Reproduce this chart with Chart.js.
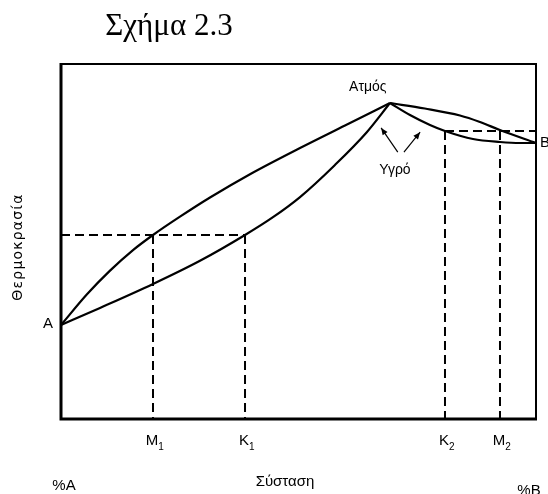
<!DOCTYPE html>
<html>
<head>
<meta charset="utf-8">
<script src="https://cdn.jsdelivr.net/npm/chart.js@4/dist/chart.umd.min.js"></script>
<style>
html,body{margin:0;padding:0;background:#fff;}
#wrap{width:548px;height:494px;position:relative;}
</style>
</head>
<body>
<div id="wrap"><canvas id="c" width="548" height="494"></canvas></div>
<script>
// Composition (%B) and temperature (arbitrary units 0-100)
const vaporLeftX  = [0, 5.47, 10.32, 15.16, 19.37, 25.05, 31.37, 39.79, 50.32, 59.79, 69.26];
const vaporLeftY  = [26.48, 35.13, 41.80, 47.58, 51.83, 56.99, 62.39, 68.96, 76.34, 82.68, 89.01];
const liquidLeftX = [0, 8.21, 19.37, 29.26, 38.74, 44.63, 50.32, 57.68, 64.42, 69.26];
const liquidLeftY = [26.48, 31.28, 38.03, 44.56, 51.83, 56.85, 62.52, 71.57, 80.87, 89.01];
const vaporRightX  = [69.26, 76.6, 84.0, 88.2, 92.4, 100];
const vaporRightY  = [89.01, 87.46, 85.49, 83.66, 81.41, 77.75];
const liquidRightX = [69.26, 73.47, 77.68, 80.84, 86.74, 92.42, 96.63, 100];
const liquidRightY = [89.01, 85.63, 82.82, 81.13, 78.87, 78.03, 77.75, 77.75];

// tie lines (dashed)
const tieTemps = [51.83, 81.13];        // left, right
const tieLeftComps  = [19.37, 38.74];   // M1, K1
const tieRightComps = [80.84, 92.42];   // K2, M2
const tickNames = ["M", "K", "K", "M"];
const tickSubs  = ["1", "1", "2", "2"];
const endLabels = ["A", "B"];
const regionLabels = ["Ατμός", "Υγρό"];
const axisTitleX = "Σύσταση";
const axisTitleY = "Θερμοκρασία";
const compEnds = ["%A", "%B"];
const chartTitle = "Σχήμα 2.3";

const pts = (xs, ys) => xs.map((x, i) => ({x: x, y: ys[i]}));

const solid = (xs, ys) => ({
  data: pts(xs, ys), showLine: true, borderColor: '#000', borderWidth: 2.2,
  pointRadius: 0, fill: false, cubicInterpolationMode: 'monotone'
});
const dashed = (d) => ({
  data: d, showLine: true, borderColor: '#000', borderWidth: 2,
  borderDash: [9, 5], pointRadius: 0, fill: false, tension: 0
});

const datasets = [
  solid(vaporLeftX, vaporLeftY),
  solid(liquidLeftX, liquidLeftY),
  solid(vaporRightX, vaporRightY),
  solid(liquidRightX, liquidRightY),
  dashed([{x: 0, y: tieTemps[0]}, {x: tieLeftComps[1], y: tieTemps[0]}]),
  dashed([{x: tieLeftComps[0], y: tieTemps[0]}, {x: tieLeftComps[0], y: 0}]),
  dashed([{x: tieLeftComps[1], y: tieTemps[0]}, {x: tieLeftComps[1], y: 0}]),
  dashed([{x: tieRightComps[0], y: tieTemps[1]}, {x: 100, y: tieTemps[1]}]),
  dashed([{x: tieRightComps[0], y: tieTemps[1]}, {x: tieRightComps[0], y: 0}]),
  dashed([{x: tieRightComps[1], y: tieTemps[1]}, {x: tieRightComps[1], y: 0}])
];

function arrow(ctx, x1, y1, x2, y2) {
  ctx.beginPath();
  ctx.moveTo(x1, y1); ctx.lineTo(x2, y2); ctx.stroke();
  const a = Math.atan2(y2 - y1, x2 - x1), L = 7, W = 3;
  ctx.beginPath();
  ctx.moveTo(x2, y2);
  ctx.lineTo(x2 - L*Math.cos(a) + W*Math.sin(a), y2 - L*Math.sin(a) - W*Math.cos(a));
  ctx.lineTo(x2 - L*Math.cos(a) - W*Math.sin(a), y2 - L*Math.sin(a) + W*Math.cos(a));
  ctx.closePath(); ctx.fill();
}

const decor = {
  id: 'decor',
  afterDraw(chart) {
    const ctx = chart.ctx, a = chart.chartArea;
    const xs = chart.scales.x, ys = chart.scales.y;
    ctx.save();
    ctx.strokeStyle = '#000'; ctx.fillStyle = '#000';
    // frame
    ctx.lineWidth = 2;
    ctx.beginPath(); ctx.moveTo(a.left, a.top); ctx.lineTo(a.right, a.top);
    ctx.lineTo(a.right, a.bottom); ctx.stroke();
    ctx.lineWidth = 3;
    ctx.beginPath(); ctx.moveTo(a.left, a.top - 1); ctx.lineTo(a.left, a.bottom);
    ctx.lineTo(a.right + 1, a.bottom); ctx.stroke();

    // title
    ctx.font = '31px "Liberation Serif", serif';
    ctx.textAlign = 'center'; ctx.textBaseline = 'alphabetic';
    ctx.fillText(chartTitle, 169, 35);

    const sans = '"Liberation Sans", Arial, sans-serif';
    // A and B
    ctx.font = '15px ' + sans;
    ctx.textBaseline = 'middle';
    ctx.textAlign = 'right';
    ctx.fillText(endLabels[0], a.left - 8, ys.getPixelForValue(vaporLeftY[0]) - 1);
    ctx.textAlign = 'left';
    ctx.fillText(endLabels[1], a.right + 4, ys.getPixelForValue(vaporRightY[vaporRightY.length - 1]));

    // region labels
    ctx.font = '14px ' + sans;
    ctx.textAlign = 'center';
    ctx.fillText(regionLabels[0], xs.getPixelForValue(64.6), ys.getPixelForValue(93.5));
    ctx.fillText(regionLabels[1], xs.getPixelForValue(70.3), ys.getPixelForValue(70.1));

    // arrows
    ctx.lineWidth = 1.2;
    arrow(ctx, xs.getPixelForValue(70.9), ys.getPixelForValue(75.2), xs.getPixelForValue(67.4), ys.getPixelForValue(82.0));
    arrow(ctx, xs.getPixelForValue(72.2), ys.getPixelForValue(75.2), xs.getPixelForValue(75.6), ys.getPixelForValue(80.8));

    // tick labels with subscripts
    const tickVals = tieLeftComps.concat(tieRightComps);
    tickVals.forEach((v, i) => {
      const px = xs.getPixelForValue(v);
      ctx.font = '15px ' + sans;
      ctx.textAlign = 'center'; ctx.textBaseline = 'alphabetic';
      ctx.fillText(tickNames[i], px - 1, 445);
      const w = ctx.measureText(tickNames[i]).width;
      ctx.font = '10px ' + sans;
      ctx.textAlign = 'left';
      ctx.fillText(tickSubs[i], px - 1 + w/2, 450);
    });

    // axis titles
    ctx.font = '15px ' + sans;
    ctx.textAlign = 'center'; ctx.textBaseline = 'middle';
    ctx.fillText(axisTitleX, 285, 482);
    ctx.fillText(compEnds[0], 64, 486);
    ctx.fillText(compEnds[1], 529, 491);

    ctx.save();
    ctx.translate(18, 247);
    ctx.rotate(-Math.PI/2);
    ctx.font = '14px "DejaVu Sans", sans-serif';
    try { ctx.letterSpacing = '1.2px'; } catch(e) {}
    ctx.fillText(axisTitleY, 0, 0);
    ctx.restore();
    ctx.restore();
  }
};

new Chart(document.getElementById('c'), {
  type: 'scatter',
  data: {datasets: datasets},
  options: {
    responsive: false,
    animation: false,
    layout: {padding: {left: 61, top: 64, right: 12, bottom: 75}},
    plugins: {legend: {display: false}, tooltip: {enabled: false}, title: {display: false}},
    scales: {
      x: {type: 'linear', min: 0, max: 100, display: false},
      y: {type: 'linear', min: 0, max: 100, display: false}
    }
  },
  plugins: [decor]
});
</script>
</body>
</html>
